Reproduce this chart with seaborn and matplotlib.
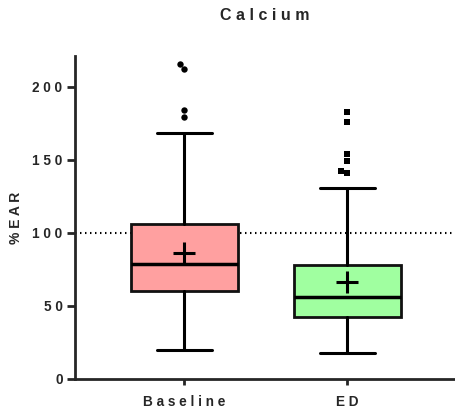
import matplotlib
matplotlib.use("Agg")
import matplotlib.pyplot as plt
import seaborn as sns

# summary values
groups = ["Baseline", "ED"]
q1 = [60.3, 42.6]
medians = [78.5, 56.0]
q3 = [106.0, 78.3]
whisker_low = [20.0, 17.6]
whisker_high = [168.5, 130.8]
means = [86.0, 66.7]
outliers_baseline = [179, 184, 212, 215.3]
outliers_ed = [141, 142, 149, 154, 176, 183]
box_colors = ["#FFA0A0", "#A0FFA0"]
yticks = [0, 50, 100, 150, 200]
ear_line = 100


def spaced(s):
    return " ".join(s)


sns.set_style("ticks")
plt.rcParams["font.family"] = ["Liberation Sans", "DejaVu Sans"]
plt.rcParams["font.weight"] = "bold"

fig = plt.figure(figsize=(4.56, 4.16), dpi=100)
ax = fig.add_axes([75 / 456, 1 - 379 / 416, 380 / 456, 323 / 416])

sns.swarmplot(x=["Baseline"] * len(outliers_baseline), y=outliers_baseline,
              order=groups, marker="o", color="black", size=4.6, ax=ax)
sns.swarmplot(x=["ED"] * len(outliers_ed), y=outliers_ed,
              order=groups, marker="s", color="black", size=4.4, ax=ax)

stats = []
for i, g in enumerate(groups):
    stats.append(dict(label=g, q1=q1[i], med=medians[i], q3=q3[i],
                      whislo=whisker_low[i], whishi=whisker_high[i],
                      mean=means[i], fliers=[]))

art = ax.bxp(stats, positions=[0, 1], widths=0.656, capwidths=0.335,
             patch_artist=True, showmeans=True, showfliers=False,
             boxprops=dict(linewidth=2, edgecolor="#111111"),
             whiskerprops=dict(linewidth=2.2, color="black"),
             capprops=dict(linewidth=2.2, color="black"),
             medianprops=dict(linewidth=2.5, color="black"),
             meanprops=dict(marker="+", markersize=16, markeredgewidth=2.2,
                            markeredgecolor="black"))
for patch, c in zip(art["boxes"], box_colors):
    patch.set_facecolor(c)

ax.axhline(ear_line, color="black", linewidth=1.5, linestyle=(0, (0.7, 1.7)), zorder=0)

ax.set_xlim(-0.67, 1.66)
ax.set_ylim(0, 221)
ax.set_yticks(yticks, labels=[spaced(str(t)) for t in yticks])
ax.set_xticks([0, 1], labels=[spaced(g) for g in groups])
ax.tick_params(axis="y", length=6, width=2, pad=3, labelsize=9.8)
ax.tick_params(axis="x", length=4.5, width=2, pad=7, labelsize=9.8)
for lab in ax.get_xticklabels() + ax.get_yticklabels():
    lab.set_fontweight("bold")

sns.despine(ax=ax)
ax.spines["left"].set_linewidth(2)
ax.spines["bottom"].set_linewidth(2)

ax.set_ylabel(spaced("%EAR"), fontsize=10, fontweight="bold", labelpad=7)
ax.set_xlabel("")
ax.set_title(spaced("Calcium"), fontsize=11.5, fontweight="bold", pad=26)

fig.savefig("out.png", dpi=100)
